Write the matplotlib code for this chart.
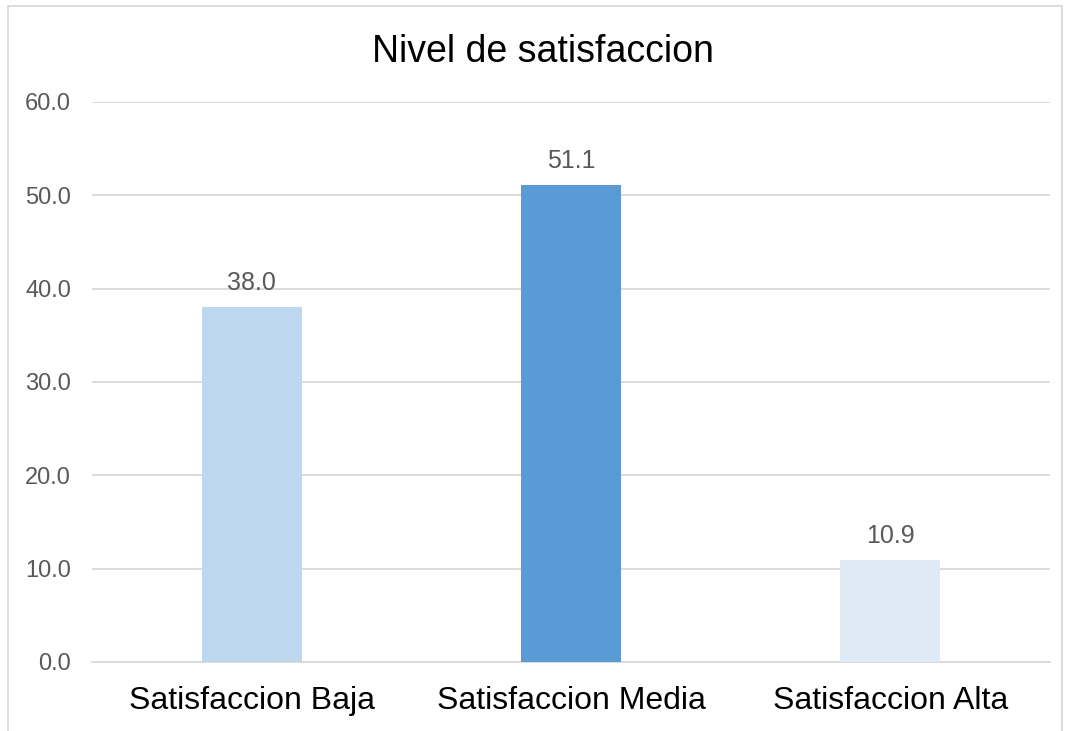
import matplotlib
matplotlib.use("Agg")
import matplotlib.pyplot as plt
import matplotlib.patches as patches

categories = ["Satisfaccion Baja", "Satisfaccion Media", "Satisfaccion Alta"]
values = [38.0, 51.1, 10.9]
bar_colors = ["#BDD7EE", "#5B9BD5", "#DEEBF7"]
y_ticks = [0, 10, 20, 30, 40, 50, 60]
title = "Nivel de satisfaccion"

TEXT_GRAY = "#595959"
GRID_GRAY = "#D9D9D9"

plt.rcParams["font.family"] = ["Liberation Sans", "DejaVu Sans"]

fig = plt.figure(figsize=(10.68, 7.31), dpi=100)
ax = fig.add_axes([92 / 1068, 1 - 662 / 731, 958 / 1068, 560 / 731])

x = range(len(categories))
ax.bar(x, values, width=0.313, color=bar_colors, zorder=3)
for xi, v in zip(x, values):
    ax.annotate(f"{v:.1f}", (xi, v), xytext=(0, 9), textcoords="offset points",
                ha="center", va="bottom", fontsize=18, color=TEXT_GRAY)

ax.set_xlim(-0.5, len(categories) - 0.5)
ax.set_ylim(0, 60)
ax.set_yticks(y_ticks)
ax.set_yticklabels([f"{t:.1f}" for t in y_ticks], fontsize=17, color=TEXT_GRAY)
ax.set_xticks(list(x))
ax.set_xticklabels(categories, fontsize=23, color="black")
ax.tick_params(axis="y", length=0, pad=15)
ax.tick_params(axis="x", length=0, pad=17)
ax.grid(axis="y", color=GRID_GRAY, linewidth=1.3, zorder=0)
for side in ["top", "right", "left"]:
    ax.spines[side].set_visible(False)
ax.spines["bottom"].set_color(GRID_GRAY)
ax.spines["bottom"].set_linewidth(1.3)

fig.text(543 / 1068, 1 - 52 / 731, title, ha="center", va="center", fontsize=27, color="black")

border = patches.Rectangle((8 / 1068, -0.05), 1054 / 1068, 1 - 6 / 731 + 0.05,
                           transform=fig.transFigure, fill=False,
                           edgecolor="#D9D9D9", linewidth=1.3)
fig.patches.append(border)

fig.savefig("out.png", dpi=100)
